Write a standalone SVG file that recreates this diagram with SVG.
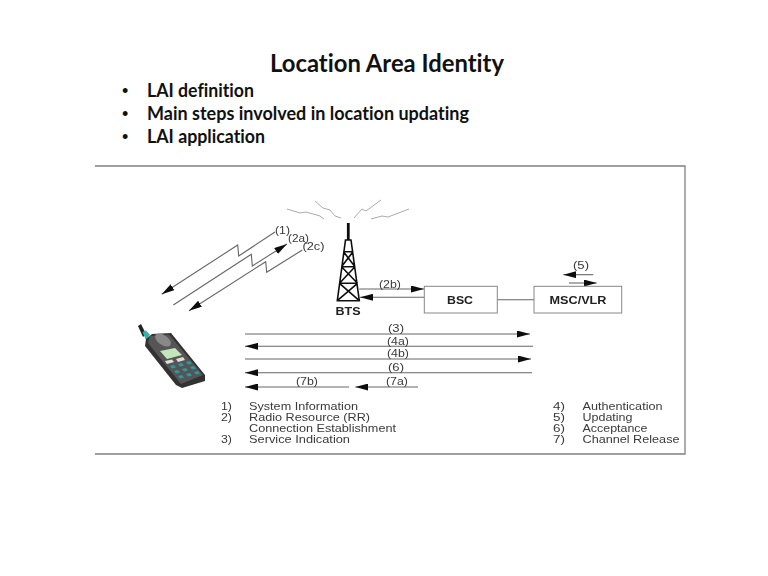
<svg xmlns="http://www.w3.org/2000/svg" width="768" height="576" viewBox="0 0 768 576">
<style>
.h{font-family:Lato,"Liberation Sans",sans-serif;font-weight:700;fill:#111;font-variant-ligatures:none}
.d{font-family:"Liberation Sans",Arial,sans-serif;font-size:18px;fill:#111}
.t{font-family:"Liberation Sans",Arial,sans-serif;font-size:10.5px;fill:#3a3a3a}
.b{font-family:"Liberation Sans",Arial,sans-serif;font-size:10px;font-weight:700;fill:#222}
.l{fill:none;stroke:#666;stroke-width:1.1}
.g{fill:none;stroke:#aaa;stroke-width:1}
.box{fill:#fff;stroke:#888;stroke-width:1}
.tw{fill:none;stroke:#111;stroke-width:1.6}
</style>
<defs>
<marker id="a" viewBox="0 0 13 7" refX="13" refY="3.500" markerWidth="13" markerHeight="7" markerUnits="userSpaceOnUse" orient="auto-start-reverse"><path d="M0 0L13 3.500L0 7Z" fill="#111"/></marker>
<filter id="s" x="-5%" y="-5%" width="110%" height="110%"><feGaussianBlur stdDeviation="0.35"/></filter>
<filter id="p" x="-5%" y="-5%" width="110%" height="110%"><feGaussianBlur stdDeviation="0.7"/></filter>
</defs>
<rect width="768" height="576" fill="#fff"/>
<g id="heading">
<text class="h" x="387" y="72" font-size="24" text-anchor="middle" textLength="234" lengthAdjust="spacingAndGlyphs">Location Area Identity</text>
<text class="d" x="122" y="97">•</text>
<text class="h" x="147" y="97" font-size="18" textLength="107" lengthAdjust="spacingAndGlyphs">LAI definition</text>
<text class="d" x="122" y="120">•</text>
<text class="h" x="147" y="120" font-size="18" textLength="322" lengthAdjust="spacingAndGlyphs">Main steps involved in location updating</text>
<text class="d" x="122" y="143">•</text>
<text class="h" x="147" y="143" font-size="18" textLength="118" lengthAdjust="spacingAndGlyphs">LAI application</text>
</g>
<g id="frame" filter="url(#s)"><path d="M95 166H685V454H95" fill="none" stroke="#808080" stroke-width="1.300"/></g>
<g id="connectors" filter="url(#s)">
<path class="l" marker-end="url(#a)" d="M275 232L238.700 256L237.700 245L161.700 294.300"/>
<path class="l" marker-end="url(#a)" d="M173.300 305L251.300 254.300L252.300 266L287 244"/>
<path class="l" marker-end="url(#a)" d="M302.300 250L266.700 272.300L265.700 261.700L189 310.700"/>
<path class="l" marker-end="url(#a)" d="M359.300 289H424"/>
<path class="l" marker-end="url(#a)" d="M424.300 297.300H360"/>
<path class="l" d="M497.300 299.700H534"/>
<path class="l" marker-end="url(#a)" d="M593.300 274.700H563.300"/>
<path class="l" marker-end="url(#a)" d="M569 283H596.700"/>
<path class="l" marker-end="url(#a)" d="M245 334H530"/>
<path class="l" marker-start="url(#a)" d="M245 346.300H533"/>
<path class="l" marker-end="url(#a)" d="M245 359H531"/>
<path class="l" marker-start="url(#a)" d="M245 372.700H532"/>
<path class="l" marker-start="url(#a)" d="M245 387H349"/>
<path class="l" marker-start="url(#a)" d="M355.300 387H418"/>
</g>
<g id="bts" filter="url(#s)">
<path class="g" d="M287 209L300 213L306 212L320 216L324 219"/>
<path class="g" d="M315 201L323 208L330 210L335 216L341 218"/>
<path class="g" d="M354 218L362 209L366 211L381 200"/>
<path class="g" d="M371 219L382 216L388 217L409 209"/>
<path d="M348.300 223V240" stroke="#111" stroke-width="2.800" fill="none"/>
<path class="tw" d="M345.500 240H351L359.300 300.700H337.300ZM343.500 251.700H353M341.500 266.700H355M339.500 283.300H357.500M343.500 251.700L355 266.700M353 251.700L341.500 266.700M341.500 266.700L357.500 283.300M355 266.700L339.500 283.300M339.500 283.300L359.300 300.700M357.500 283.300L337.300 300.700"/>
<text class="b" x="348" y="314.500" text-anchor="middle" textLength="25" lengthAdjust="spacingAndGlyphs">BTS</text>
</g>
<g id="bsc" filter="url(#s)">
<rect class="box" x="424.300" y="286.300" width="73" height="26.700"/>
<text class="b" x="460" y="303.500" text-anchor="middle" textLength="26" lengthAdjust="spacingAndGlyphs">BSC</text>
</g>
<g id="msc" filter="url(#s)">
<rect class="box" x="534" y="286.300" width="87.700" height="26.700"/>
<text class="b" x="578" y="303.500" text-anchor="middle" textLength="57" lengthAdjust="spacingAndGlyphs">MSC/VLR</text>
</g>
<g id="phone" filter="url(#p)">
<path d="M138 326L141 324L146 334L143 337Z" fill="#222"/>
<path d="M142.500 332L146 330.500L150 335L146 340Z" fill="#2fb3b3"/>
<path d="M146 339L152 334L171 333L205 375L205 381L182 388L176 385L145 346Z" fill="#333"/>
<path d="M150 336L169 334.500L203 375L181 384L148 343Z" fill="#555"/>
<ellipse cx="163" cy="340" rx="9" ry="5" fill="#888" transform="rotate(35 163 340)"/>
<path d="M160 351L175 348L182 355L167 359Z" fill="#c4e6bb"/>
<path d="M165 361L172 359.500L174 362L167 364ZM176 359L183 357L185 360L178 362Z" fill="#ddd"/>
<g fill="#2a9aa8">
<path d="M170 366l4-1 2 2.500-4 1zM178 364l4-1 2 2.500-4 1zM186 362l4-1 2 2.500-4 1z"/>
<path d="M174 371l4-1 2 2.500-4 1zM182 369l4-1 2 2.500-4 1zM190 367l4-1 2 2.500-4 1z"/>
<path d="M178 376l4-1 2 2.500-4 1zM186 374l4-1 2 2.500-4 1zM194 372l4-1 2 2.500-4 1z"/>
</g>
</g>
<g id="labels" filter="url(#s)">
<text class="t" x="275" y="233.500" textLength="15" lengthAdjust="spacingAndGlyphs">(1)</text>
<text class="t" x="288" y="241.500" textLength="21" lengthAdjust="spacingAndGlyphs">(2a)</text>
<text class="t" x="302.500" y="250" textLength="22" lengthAdjust="spacingAndGlyphs">(2c)</text>
<text class="t" x="379" y="288" textLength="22" lengthAdjust="spacingAndGlyphs">(2b)</text>
<text class="t" x="573" y="269" textLength="16" lengthAdjust="spacingAndGlyphs">(5)</text>
<text class="t" x="396" y="331.500" text-anchor="middle" textLength="16" lengthAdjust="spacingAndGlyphs">(3)</text>
<text class="t" x="398" y="344.500" text-anchor="middle" textLength="22" lengthAdjust="spacingAndGlyphs">(4a)</text>
<text class="t" x="398" y="357" text-anchor="middle" textLength="22" lengthAdjust="spacingAndGlyphs">(4b)</text>
<text class="t" x="396" y="370.500" text-anchor="middle" textLength="16" lengthAdjust="spacingAndGlyphs">(6)</text>
<text class="t" x="307" y="385" text-anchor="middle" textLength="22" lengthAdjust="spacingAndGlyphs">(7b)</text>
<text class="t" x="397" y="385" text-anchor="middle" textLength="22" lengthAdjust="spacingAndGlyphs">(7a)</text>
</g>
<g id="legend" filter="url(#s)">
<text class="t" x="221" y="409.500" textLength="11" lengthAdjust="spacingAndGlyphs">1)</text>
<text class="t" x="249" y="409.500" textLength="109" lengthAdjust="spacingAndGlyphs">System Information</text>
<text class="t" x="221" y="420.500" textLength="11" lengthAdjust="spacingAndGlyphs">2)</text>
<text class="t" x="249" y="420.500" textLength="121" lengthAdjust="spacingAndGlyphs">Radio Resource (RR)</text>
<text class="t" x="249" y="432" textLength="147" lengthAdjust="spacingAndGlyphs">Connection Establishment</text>
<text class="t" x="221" y="443" textLength="11" lengthAdjust="spacingAndGlyphs">3)</text>
<text class="t" x="249" y="443" textLength="101" lengthAdjust="spacingAndGlyphs">Service Indication</text>
<text class="t" x="553" y="409.500" textLength="12" lengthAdjust="spacingAndGlyphs">4)</text>
<text class="t" x="582.500" y="409.500" textLength="80" lengthAdjust="spacingAndGlyphs">Authentication</text>
<text class="t" x="553" y="420.500" textLength="12" lengthAdjust="spacingAndGlyphs">5)</text>
<text class="t" x="582.500" y="420.500" textLength="50" lengthAdjust="spacingAndGlyphs">Updating</text>
<text class="t" x="553" y="432" textLength="12" lengthAdjust="spacingAndGlyphs">6)</text>
<text class="t" x="582.500" y="432" textLength="65" lengthAdjust="spacingAndGlyphs">Acceptance</text>
<text class="t" x="553" y="443" textLength="12" lengthAdjust="spacingAndGlyphs">7)</text>
<text class="t" x="582.500" y="443" textLength="97" lengthAdjust="spacingAndGlyphs">Channel Release</text>
</g>
</svg>
